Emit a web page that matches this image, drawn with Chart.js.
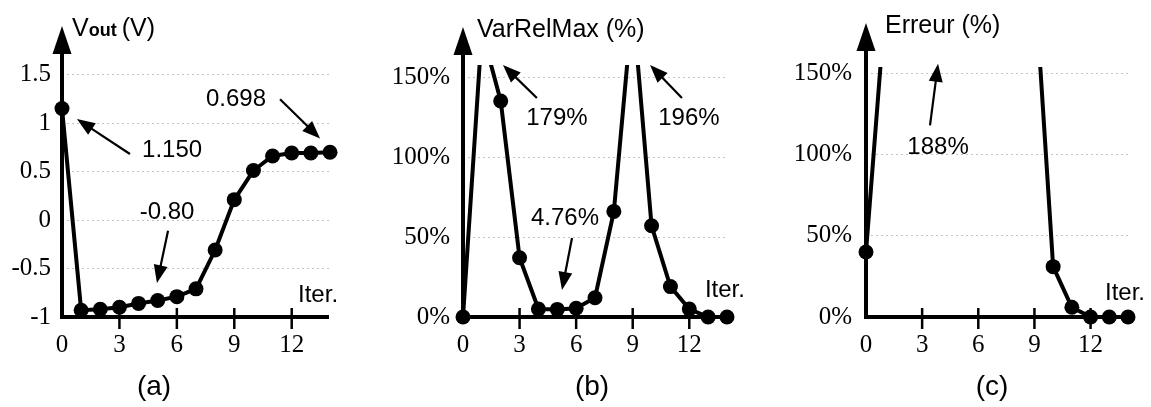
<!DOCTYPE html>
<html>
<head>
<meta charset="utf-8">
<script src="https://cdn.jsdelivr.net/npm/chart.js@4.4.1/dist/chart.umd.min.js"></script>
<style>
  html, body { margin: 0; padding: 0; background: #fff; }
  #wrap { position: relative; width: 1151px; height: 407px; overflow: hidden; }
  canvas { position: absolute; top: 0; }
</style>
</head>
<body>
<div id="wrap">
  <canvas id="panelA" width="384" height="407" style="left:0px"></canvas>
  <canvas id="panelB" width="384" height="407" style="left:384px"></canvas>
  <canvas id="panelC" width="383" height="407" style="left:768px"></canvas>
</div>
<script>
// Iteration index shared by the three panels
const iterations = [0, 1, 2, 3, 4, 5, 6, 7, 8, 9, 10, 11, 12, 13, 14];

// (a) output voltage at each iteration, in volts
const vout = [1.150, -0.93, -0.92, -0.90, -0.86, -0.83, -0.79, -0.71, -0.31, 0.21, 0.51, 0.66, 0.69, 0.69, 0.698];

// (b) maximum relative variation, in %
const varRelMax = [0, 179, 135, 37, 5, 4.76, 5.5, 12, 66, 196, 57, 19, 5, 0, 0];

// (c) error, in % (iterations 2 to 8 are not plotted)
const erreur = [40, 188, null, null, null, null, null, null, null, 210, 31, 6, 0, 0, 0];

// Tick values and labels
const xTicks = [0, 3, 6, 9, 12];
const xTickLabels = ['0', '3', '6', '9', '12'];
const yTicksVolt = [-1, -0.5, 0, 0.5, 1, 1.5];
const yTickLabelsVolt = ['-1', '-0.5', '0', '0.5', '1', '1.5'];
const yTicksPct = [0, 50, 100, 150];
const yTickLabelsPct = ['0%', '50%', '100%', '150%'];

const SANS = '"Liberation Sans", Arial, Helvetica, sans-serif';
const SERIF = '"Liberation Serif", "Times New Roman", Times, serif';

function arrow(ctx, x1, y1, x2, y2, len, half) {
  const ang = Math.atan2(y2 - y1, x2 - x1);
  const bx = x2 - Math.cos(ang) * len, by = y2 - Math.sin(ang) * len;
  ctx.beginPath();
  ctx.moveTo(x1, y1);
  ctx.lineTo(bx + Math.cos(ang) * 2, by + Math.sin(ang) * 2);
  ctx.stroke();
  ctx.beginPath();
  ctx.moveTo(x2, y2);
  ctx.lineTo(bx - Math.sin(ang) * half, by + Math.cos(ang) * half);
  ctx.lineTo(bx + Math.sin(ang) * half, by - Math.cos(ang) * half);
  ctx.closePath();
  ctx.fill();
}

// Axes with arrowhead, tick marks, callouts, axis names and caption
function decor(cfg) {
  return {
    id: 'decor',
    beforeDatasetsDraw(chart) {
      const { ctx, chartArea: a, scales: { x, y } } = chart;
      const x0 = x.getPixelForValue(0);
      const y0 = y.getPixelForValue(cfg.yMin);
      const tip = a.top - cfg.arrowAbove;
      ctx.save();
      ctx.strokeStyle = '#000';
      ctx.fillStyle = '#000';
      ctx.lineWidth = 4;
      ctx.beginPath();
      ctx.moveTo(x0 - 2, y0);
      ctx.lineTo(a.right - 1, y0);
      ctx.stroke();
      ctx.beginPath();
      ctx.moveTo(x0, y0 + 2);
      ctx.lineTo(x0, tip + 20);
      ctx.stroke();
      ctx.beginPath();
      ctx.moveTo(x0, tip);
      ctx.lineTo(x0 - 9.5, tip + 28);
      ctx.lineTo(x0 + 9.5, tip + 28);
      ctx.closePath();
      ctx.fill();
      ctx.lineWidth = 2.5;
      xTicks.forEach(v => {
        if (v === 0) return;
        const px = x.getPixelForValue(v);
        ctx.beginPath();
        ctx.moveTo(px, y0 - 9);
        ctx.lineTo(px, y0 + 12);
        ctx.stroke();
      });
      ctx.restore();
    },
    afterDraw(chart) {
      const { ctx, scales: { x, y } } = chart;
      const X = v => x.getPixelForValue(v), Y = v => y.getPixelForValue(v);
      const x0 = X(0);
      ctx.save();
      ctx.fillStyle = '#000';
      ctx.strokeStyle = '#000';
      // callouts
      ctx.font = '24px ' + SANS;
      ctx.textAlign = 'center';
      ctx.textBaseline = 'middle';
      ctx.lineWidth = 2.2;
      cfg.notes.forEach(n => {
        ctx.fillText(n.text, X(n.at[0]), Y(n.at[1]));
        arrow(ctx, X(n.from[0]), Y(n.from[1]), X(n.to[0]), Y(n.to[1]), 18, 7);
      });
      // horizontal axis name
      ctx.textAlign = 'left';
      ctx.fillText('Iter.', X(cfg.iterAt[0]), Y(cfg.iterAt[1]));
      // vertical axis name
      ctx.textBaseline = 'alphabetic';
      let tx = x0 + cfg.nameDx;
      cfg.name.forEach(part => {
        ctx.font = part.font;
        ctx.fillText(part.text, tx, cfg.nameBaseline);
        tx += ctx.measureText(part.text).width + (part.gap || 0);
      });
      // caption
      ctx.font = '28px ' + SANS;
      ctx.textAlign = 'center';
      ctx.textBaseline = 'middle';
      ctx.fillText(cfg.caption, cfg.captionX, 387);
      ctx.restore();
    }
  };
}

function panel(id, cfg) {
  const tickFont = { family: SERIF, size: 25 };
  new Chart(document.getElementById(id), {
    type: 'line',
    data: {
      datasets: [{
        data: iterations.map((it, i) => ({ x: it, y: cfg.values[i] })),
        borderColor: '#000',
        borderWidth: 4,
        pointRadius: 7.5,
        pointHoverRadius: 7.5,
        pointBackgroundColor: '#000',
        pointBorderWidth: 0,
        tension: 0,
        spanGaps: false,
        clip: cfg.clip
      }]
    },
    options: {
      responsive: false,
      animation: false,
      events: [],
      layout: { padding: cfg.pad },
      plugins: { legend: { display: false }, tooltip: { enabled: false } },
      scales: {
        x: {
          type: 'linear',
          min: 0, max: 14,
          afterFit: s => { s.height = 40; },
          afterBuildTicks: s => { s.ticks = xTicks.map(v => ({ value: v })); },
          ticks: {
            autoSkip: false, maxRotation: 0, padding: 13,
            color: '#000', font: tickFont,
            callback: (v, i) => xTickLabels[i]
          },
          grid: { display: false, drawTicks: false },
          border: { display: false }
        },
        y: {
          type: 'linear',
          min: cfg.yMin, max: cfg.yMax,
          afterFit: s => { s.width = cfg.yWidth; },
          afterBuildTicks: s => { s.ticks = cfg.yTicks.map(v => ({ value: v })); },
          ticks: {
            autoSkip: false, padding: cfg.yPad,
            color: '#000', font: tickFont,
            callback: (v, i) => cfg.yLabels[i]
          },
          grid: { color: '#c4c4c4', lineWidth: 1, drawTicks: false },
          border: { display: false, dash: [2, 3] }
        }
      }
    },
    plugins: [decor(cfg)]
  });
}

panel('panelA', {
  values: vout,
  yMin: -1, yMax: 2,
  yTicks: yTicksVolt, yLabels: yTickLabelsVolt,
  yWidth: 62, yPad: 11,
  pad: { left: 0, right: 54, top: 23, bottom: 50 },
  clip: false,
  arrowAbove: 0,
  notes: [
    { text: '1.150', at: [5.75, 0.72], from: [3.55, 0.68], to: [0.78, 1.04] },
    { text: '0.698', at: [9.09, 1.24], from: [11.39, 1.245], to: [13.48, 0.84] },
    { text: '-0.80', at: [5.49, 0.08], from: [5.54, -0.11], to: [4.96, -0.65] }
  ],
  iterAt: [12.33, -0.776],
  name: [
    { text: 'V', font: '25px ' + SANS },
    { text: 'out', font: 'bold 18px ' + SANS, gap: 5 },
    { text: '(V)', font: '25px ' + SANS }
  ],
  nameDx: 10, nameBaseline: 36,
  caption: '(a)', captionX: 154
});

panel('panelB', {
  values: varRelMax,
  yMin: 0, yMax: 157.5,
  yTicks: yTicksPct, yLabels: yTickLabelsPct,
  yWidth: 79, yPad: 13,
  pad: { left: 0, right: 41, top: 65, bottom: 50 },
  clip: { left: false, right: false, bottom: false, top: 0 },
  arrowAbove: 38,
  notes: [
    { text: '179%', at: [4.98, 124.4], from: [3.92, 136.9], to: [2.12, 157.5] },
    { text: '196%', at: [11.98, 124.4], from: [11.61, 136.9], to: [9.92, 157.5] },
    { text: '4.76%', at: [5.41, 61.9], from: [5.78, 49.4], to: [5.25, 16.9] }
  ],
  iterAt: [12.83, 16.9],
  name: [{ text: 'VarRelMax (%)', font: '25px ' + SANS }],
  nameDx: 14, nameBaseline: 37,
  caption: '(b)', captionX: 208
});

panel('panelC', {
  values: erreur,
  yMin: 0, yMax: 154,
  yTicks: yTicksPct, yLabels: yTickLabelsPct,
  yWidth: 98, yPad: 14,
  pad: { left: 0, right: 23, top: 67, bottom: 50 },
  clip: { left: false, right: false, bottom: false, top: 0 },
  arrowAbove: 44,
  notes: [
    { text: '188%', at: [3.85, 104.5], from: [3.42, 118], to: [3.85, 156] }
  ],
  iterAt: [12.77, 14.7],
  name: [{ text: 'Erreur (%)', font: '25px ' + SANS }],
  nameDx: 19, nameBaseline: 33,
  caption: '(c)', captionX: 224
});
</script>
</body>
</html>
